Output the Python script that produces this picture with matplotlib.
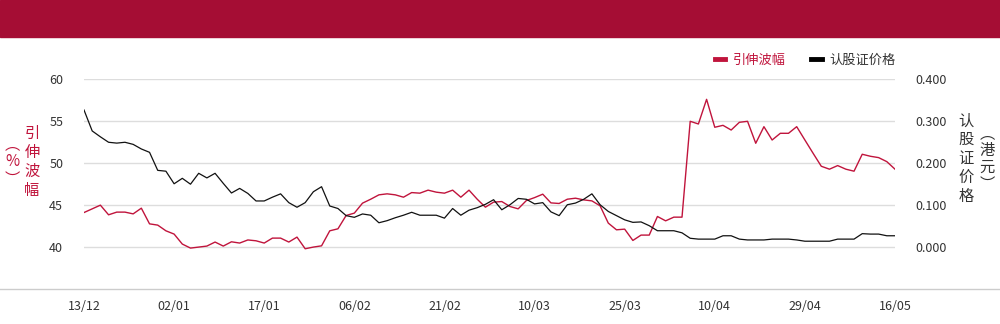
import numpy as np
import matplotlib
matplotlib.use("Agg")
from matplotlib import pyplot as plt
from matplotlib.patches import Rectangle
from matplotlib.lines import Line2D

plt.rcParams['font.family'] = ['Noto Sans CJK SC', 'DejaVu Sans']

# implied volatility (%), left axis
iv = [44.12, 44.56, 45.0, 43.85, 44.17, 44.17, 43.96, 44.64, 42.77, 42.62,
      41.94, 41.55, 40.36, 39.88, 40.0, 40.12, 40.6, 40.12, 40.63, 40.48,
      40.85, 40.75, 40.48, 41.07, 41.07, 40.6, 41.19, 39.8, 40.0, 40.15,
      41.94, 42.18, 43.77, 44.05, 45.24, 45.71, 46.23, 46.35, 46.23, 45.95,
      46.5, 46.43, 46.79, 46.55, 46.43, 46.79, 45.95, 46.79, 45.71, 44.76,
      45.36, 45.43, 44.84, 44.56, 45.55, 45.9, 46.31, 45.27, 45.2, 45.71,
      45.83, 45.63, 45.51, 44.92, 42.86, 42.06, 42.14, 40.79, 41.43, 41.43,
      43.65, 43.13, 43.57, 43.57, 55.0, 54.68, 57.62, 54.29, 54.52, 53.96,
      54.88, 55.0, 52.38, 54.36, 52.77, 53.57, 53.57, 54.36, 52.77, 51.19,
      49.64, 49.29, 49.72, 49.29, 49.05, 51.07, 50.83, 50.67, 50.19, 49.29]

# warrant price (HKD), right axis
price = [0.327, 0.277, 0.263, 0.250, 0.248, 0.250, 0.245, 0.234, 0.226, 0.183,
         0.181, 0.151, 0.164, 0.150, 0.176, 0.165, 0.176, 0.152, 0.129, 0.140,
         0.128, 0.110, 0.110, 0.119, 0.127, 0.106, 0.095, 0.106, 0.132, 0.144,
         0.098, 0.092, 0.075, 0.071, 0.079, 0.076, 0.058, 0.063, 0.070, 0.076,
         0.083, 0.076, 0.076, 0.076, 0.069, 0.092, 0.076, 0.088, 0.094, 0.102,
         0.113, 0.089, 0.101, 0.116, 0.114, 0.103, 0.106, 0.084, 0.075, 0.101,
         0.105, 0.114, 0.127, 0.101, 0.085, 0.075, 0.065, 0.059, 0.060, 0.051,
         0.039, 0.039, 0.039, 0.034, 0.021, 0.019, 0.019, 0.019, 0.027, 0.027,
         0.019, 0.017, 0.017, 0.017, 0.019, 0.019, 0.019, 0.017, 0.014, 0.014,
         0.014, 0.014, 0.019, 0.019, 0.019, 0.032, 0.031, 0.031, 0.027, 0.027]

x_labels = ["13/12", "02/01", "17/01", "06/02", "21/02",
            "10/03", "25/03", "10/04", "29/04", "16/05"]
label_step = 11

left_ticks = [40, 45, 50, 55, 60]
right_ticks = [0.0, 0.1, 0.2, 0.3, 0.4]

RED = "#c0143c"
DARK = "#a50d34"
GRID = "#dddddd"
TXT = "#333333"

fig = plt.figure(figsize=(10, 3.24), dpi=100)
fig.patches.append(Rectangle((0, 0.886), 1, 0.114, transform=fig.transFigure,
                             color=DARK, zorder=0))
# bottom rule across the whole width
fig.lines.append(Line2D([0, 1], [0.108, 0.108], transform=fig.transFigure,
                        color="#cccccc", lw=1))

ax = fig.add_axes([0.084, 0.108, 0.811, 0.647])
ax2 = ax.twinx()

x = np.arange(len(iv))
ax.plot(x, iv, color=RED, lw=1.0)
ax2.plot(x, price, color="#111111", lw=0.9)

ax.set_xlim(0, len(iv) - 1)
ax.set_ylim(35, 60)
ax2.set_ylim(-0.1, 0.4)
ax.set_yticks(left_ticks)
ax2.set_yticks(right_ticks)
ax2.set_yticklabels(["%.3f" % v for v in right_ticks])
ax.set_xticks(np.arange(0, len(iv), label_step))
ax.set_xticklabels(x_labels)

for a in (ax, ax2):
    for s in a.spines.values():
        s.set_visible(False)
    a.tick_params(length=0, colors=TXT, labelsize=9)
ax.tick_params(axis='y', pad=15)
ax2.tick_params(axis='y', pad=15)
ax.tick_params(axis='x', pad=8)
ax.grid(axis='y', color=GRID, lw=1)
ax.set_axisbelow(True)

# vertical axis titles
fig.text(0.032, 0.50, "\n".join("引伸波幅"), color=RED, fontsize=11,
         ha='center', va='center', linespacing=1.15)
fig.text(0.012, 0.50, "︵\n%\n︶", color=RED, fontsize=11,
         ha='center', va='center', linespacing=1.0)
fig.text(0.966, 0.51, "\n".join("认股证价格"), color=TXT, fontsize=11,
         ha='center', va='center', linespacing=1.15)
fig.text(0.987, 0.51, "︵\n港\n元\n︶", color=TXT, fontsize=11,
         ha='center', va='center', linespacing=1.0)

handles = [Line2D([], [], color=RED, lw=3.5), Line2D([], [], color="#000000", lw=3.5)]
leg = ax.legend(handles, ["引伸波幅", "认股证价格"], loc='upper right',
                bbox_to_anchor=(1.0075, 1.146), ncol=2, frameon=False,
                handlelength=0.8, handletextpad=0.6, columnspacing=1.9,
                fontsize=9.5, borderaxespad=0)
leg.get_texts()[0].set_color(RED)
leg.get_texts()[1].set_color(TXT)

fig.savefig("out.png", dpi=100)
